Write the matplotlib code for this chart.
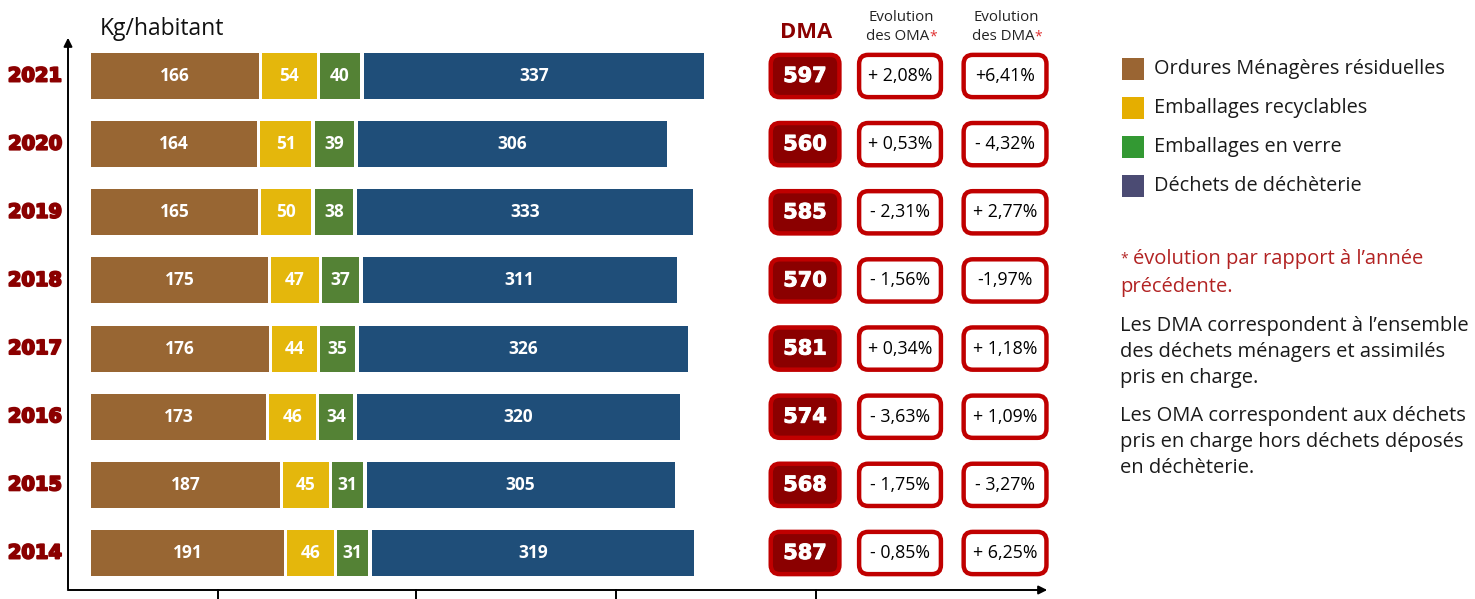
import numpy as np
import matplotlib
matplotlib.use("Agg")
import matplotlib.pyplot as plt
from matplotlib.patches import FancyBboxPatch, Rectangle
import matplotlib.patheffects as pe

# ---------------- data ----------------
years = ["2021", "2020", "2019", "2018", "2017", "2016", "2015", "2014"]
omr = [166, 164, 165, 175, 176, 173, 187, 191]          # Ordures Ménagères résiduelles
emb_recyc = [54, 51, 50, 47, 44, 46, 45, 46]            # Emballages recyclables
emb_verre = [40, 39, 38, 37, 35, 34, 31, 31]            # Emballages en verre
decheterie = [337, 306, 333, 311, 326, 320, 305, 319]   # Déchets de déchèterie
dma = [597, 560, 585, 570, 581, 574, 568, 587]
evol_oma = ["+ 2,08%", "+ 0,53%", "- 2,31%", "- 1,56%", "+ 0,34%", "- 3,63%", "- 1,75%", "- 0,85%"]
evol_dma = ["+6,41%", "- 4,32%", "+ 2,77%", "-1,97%", "+ 1,18%", "+ 1,09%", "- 3,27%", "+ 6,25%"]
legend_labels = ["Ordures Ménagères résiduelles", "Emballages recyclables",
                 "Emballages en verre", "Déchets de déchèterie"]

bar_colors = ["#986633", "#E4B70C", "#548235", "#1F4E79"]
legend_colors = ["#9A6533", "#E5AE00", "#339933", "#4B4B73"]
RED = "#C00000"
DARK = "#8B0000"
FONT = "Open Sans"

W, H = 1475, 599
fig = plt.figure(figsize=(W / 100, H / 100), dpi=100)
fig.patch.set_facecolor("white")

# axes: pixel 68..1050 horizontally, 35..590 vertically
ax = fig.add_axes([68 / W, (H - 590) / H, (1050 - 68) / W, (590 - 35) / H])
scale = 1.01
ax.set_xlim(-(91 - 68) / scale, (1050 - 91) / scale)
n = len(years)
ypos = np.arange(n)
ax.set_ylim(n - 1 + 37 / 68.14, -41 / 68.14)
for s in ax.spines.values():
    s.set_visible(False)
ax.set_xticks([])
ax.set_yticks([])
ax.patch.set_alpha(0)

# axis arrows
ax.annotate("", xy=(1.0, 0.0), xytext=(-0.003, 0.0), xycoords="axes fraction",
            arrowprops=dict(arrowstyle="-|>,head_length=0.5,head_width=0.25", color="black", lw=1.4))
ax.annotate("", xy=(0.0, 1.0), xytext=(0.0, -0.003), xycoords="axes fraction",
            arrowprops=dict(arrowstyle="-|>,head_length=0.5,head_width=0.25", color="black", lw=1.4))
tick_positions = [125.7, 322.0, 520.0, 718.0]
for t in tick_positions:
    ax.plot([t, t], [0, -0.02], transform=ax.get_xaxis_transform(), color="black",
            lw=1.4, clip_on=False)

# stacked bars
series = [omr, emb_recyc, emb_verre, decheterie]
gap = 3.3
bar_h = 0.675
left = np.zeros(n)
for i, (vals, col) in enumerate(zip(series, bar_colors)):
    vals = np.array(vals, dtype=float)
    ax.barh(ypos, vals, left=left, height=bar_h, color=col, edgecolor="none")
    for y, l, v in zip(ypos, left, vals):
        ax.text(l + v / 2, y, f"{int(v)}", ha="center", va="center", color="white",
                fontsize=12.5, fontweight="bold", family=FONT)
    left = left + vals + gap

# year labels
heavy_red = [pe.withStroke(linewidth=1.4, foreground=DARK)]
for y, yr in zip(ypos, years):
    ax.text(-0.006, y, yr, transform=ax.get_yaxis_transform(), ha="right", va="center",
            color=DARK, fontsize=14, fontweight="bold", family="DejaVu Sans",
            clip_on=False, path_effects=heavy_red)

# boxes
box_h = 0.62
asp = (1 / 68.14) / (1 / scale)

def box(xc, y, w, face, edge, lw):
    p = FancyBboxPatch((xc - w / 2, y - box_h / 2), w, box_h,
                       boxstyle="round,pad=0,rounding_size=9", mutation_aspect=asp,
                       facecolor=face, edgecolor=edge, lw=lw, clip_on=False)
    ax.add_patch(p)

heavy_white = [pe.withStroke(linewidth=0.7, foreground="white")]
x_dma, x_oma, x_devo = 707, 801, 905
for y, d, eo, ed in zip(ypos, dma, evol_oma, evol_dma):
    box(x_dma, y, 68, DARK, RED, 3.2)
    ax.text(x_dma, y, str(d), ha="center", va="center", color="white", fontsize=15,
            fontweight="bold", family="DejaVu Sans", path_effects=heavy_white)
    box(x_oma, y, 81, "white", RED, 3.2)
    ax.text(x_oma, y, eo, ha="center", va="center", color="black", fontsize=12.8, family=FONT)
    box(x_devo, y, 82, "white", RED, 3.2)
    ax.text(x_devo, y, ed, ha="center", va="center", color="black", fontsize=12.8, family=FONT)

# headers
def yfrac(py):
    return (590 - py) / 555

xt = ax.get_xaxis_transform()
ax.text(x_dma + 1, yfrac(33), "DMA", transform=xt, ha="center", va="center", color=DARK,
        fontsize=15.8, fontweight="bold", family=FONT, clip_on=False)
for xc, lab in [(x_oma, "des OMA"), (x_devo, "des DMA")]:
    ax.text(xc + 1, yfrac(17), "Evolution", transform=xt, ha="center", va="center",
            fontsize=10.8, family=FONT, color="#222222", clip_on=False)
    t = ax.text(xc - 2, yfrac(37), lab, transform=xt, ha="center", va="center",
                fontsize=10.8, family=FONT, color="#222222", clip_on=False)
    ax.annotate("*", xy=(1, 1), xycoords=t, ha="left", va="top", color="#E03030",
                fontsize=10, family=FONT, annotation_clip=False)
ax.text(9, yfrac(29), "Kg/habitant", transform=xt, ha="left", va="center",
        fontsize=16.5, family=FONT, color="#111111", clip_on=False)

# legend (right panel)
rows_y = [69, 108, 147, 186]
for py, lab, col in zip(rows_y, legend_labels, legend_colors):
    fig.patches.append(Rectangle((1122 / W, (H - py - 11) / H), 22 / W, 22 / H,
                                 transform=fig.transFigure, facecolor=col, edgecolor="none"))
    fig.text(1154 / W, (H - py) / H, lab, ha="left", va="center", fontsize=14.3,
             family=FONT, color="#1a1a1a")

# notes
fig.text(1120 / W, (H - 259) / H, "*", ha="left", va="center", fontsize=10,
         family=FONT, color="#B22222")
fig.text(1133 / W, (H - 259) / H, "évolution par rapport à l’année", ha="left", va="center",
         fontsize=14.5, family=FONT, color="#B22222")
fig.text(1120 / W, (H - 287) / H, "précédente.", ha="left", va="center",
         fontsize=14.5, family=FONT, color="#B22222")
notes = [("Les DMA correspondent à l’ensemble", 326), ("des déchets ménagers et assimilés", 352),
         ("pris en charge.", 378), ("Les OMA correspondent aux déchets", 416),
         ("pris en charge hors déchets déposés", 442), ("en déchèterie.", 468)]
for txt, py in notes:
    fig.text(1120 / W, (H - py) / H, txt, ha="left", va="center", fontsize=14.5,
             family=FONT, color="#1a1a1a")

fig.savefig("out.png", dpi=100, facecolor="white")
